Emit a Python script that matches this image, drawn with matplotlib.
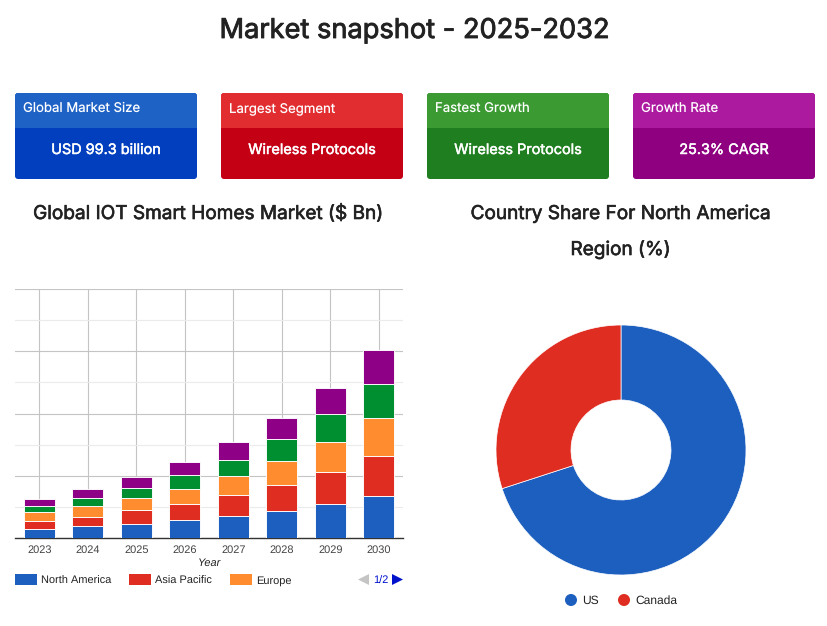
import matplotlib
matplotlib.use("Agg")
import matplotlib.pyplot as plt
import matplotlib.patheffects as pe
from matplotlib.patches import FancyBboxPatch, Rectangle, Polygon, Circle
from matplotlib.ticker import MultipleLocator

plt.rcParams["text.hinting"] = "none"
plt.rcParams["text.hinting_factor"] = 1

W, H = 827, 626

years = ["2023", "2024", "2025", "2026", "2027", "2028", "2029", "2030"]
north_america = [2.8, 3.75, 4.4, 5.7, 7.0, 8.6, 10.8, 13.4]
asia_pacific = [2.8, 3.1, 4.5, 5.1, 6.7, 8.4, 10.3, 12.9]
europe = [2.7, 3.3, 3.9, 5.1, 6.1, 7.7, 9.6, 12.2]
latin_america = [2.1, 2.8, 3.4, 4.4, 5.4, 7.0, 9.0, 11.1]
middle_east_africa = [2.1, 2.8, 3.4, 4.1, 5.6, 6.8, 8.4, 10.8]

series_names = ["North America", "Asia Pacific", "Europe", "Latin America", "Middle East & Africa"]
series_colors = ["#1C5FBF", "#E02D22", "#FF8C2E", "#008F30", "#8E0085"]

countries = ["US", "Canada"]
country_share = [70, 30]
country_colors = ["#1C5FBF", "#E02D22"]

card_titles = ["Global Market Size", "Largest Segment", "Fastest Growth", "Growth Rate"]
card_values = ["USD 99.3 billion", "Wireless Protocols", "Wireless Protocols", "25.3% CAGR"]
card_head = ["#1E62C5", "#E22D30", "#3B9A32", "#AC1AA0"]
card_body = ["#013FBF", "#C40015", "#1F7E1F", "#8E0080"]

HEAD_FONT = ["Inter", "DejaVu Sans"]
ARIAL = ["Liberation Sans", "DejaVu Sans"]

fig = plt.figure(figsize=(W / 100, H / 100), dpi=100, facecolor="white")

def px_axes(x0, y0, x1, y1, **kw):
    return fig.add_axes([x0 / W, 1 - y1 / H, (x1 - x0) / W, (y1 - y0) / H], **kw)

def medium(color, width=0.45):
    return [pe.withStroke(linewidth=width, foreground=color)]

ov = fig.add_axes([0, 0, 1, 1], zorder=0)
ov.set_xlim(0, W)
ov.set_ylim(H, 0)
ov.axis("off")

ov.text(414.5, 38, "Market snapshot - 2025-2032", ha="center", va="baseline",
        fontsize=19.6, color="#222222", family=HEAD_FONT, path_effects=medium("#222222", 0.6))

for i, x0 in enumerate([15, 221, 427, 633]):
    card = FancyBboxPatch((x0, 93), 182, 86, boxstyle="round,pad=0,rounding_size=3",
                          fc=card_body[i], ec="none")
    ov.add_patch(card)
    head = Rectangle((x0, 93), 182, 35, fc=card_head[i], ec="none")
    ov.add_patch(head)
    head.set_clip_path(card)
    ov.text(x0 + 8, 112, card_titles[i], ha="left", va="baseline", fontsize=9.5,
            color="white", family=HEAD_FONT)
    ov.text(x0 + 91, 154, card_values[i], ha="center", va="baseline", fontsize=10.4,
            color="white", family=HEAD_FONT, path_effects=medium("white", 0.35))

for xc, yb, txt in [(208, 219, "Global IOT Smart Homes Market ($ Bn)"),
                    (620.5, 219, "Country Share For North America"),
                    (620.5, 255, "Region (%)")]:
    ov.text(xc, yb, txt, ha="center", va="baseline", fontsize=13.7, color="#222222",
            family=HEAD_FONT, path_effects=medium("#222222", 0.45))

ax = px_axes(15, 289, 403, 538, zorder=1)
ax.patch.set_alpha(0)
pos = list(range(len(years)))
bottom = [0.0] * len(years)
for vals, name, col in zip([north_america, asia_pacific, europe, latin_america, middle_east_africa],
                           series_names, series_colors):
    ax.bar(pos, vals, 0.63, bottom=bottom, color=col, edgecolor="white", linewidth=0.65,
           label=name, zorder=3)
    bottom = [b + v for b, v in zip(bottom, vals)]
ax.set_xlim(-0.5, 7.5)
ax.set_ylim(0, 80)
ax.yaxis.set_major_locator(MultipleLocator(20))
ax.yaxis.set_minor_locator(MultipleLocator(10))
ax.set_xticks(pos, years)
ax.grid(True, which="major", axis="both", color="#C4C4C4", linewidth=0.8, zorder=0)
ax.grid(True, which="minor", axis="y", color="#EBEBEB", linewidth=0.8, zorder=0)
ax.set_axisbelow(True)
ax.tick_params(axis="both", which="both", length=0)
ax.tick_params(axis="y", which="both", labelleft=False)
ax.tick_params(axis="x", pad=5, labelsize=8.2, labelcolor="#444444")
for lab in ax.get_xticklabels():
    lab.set_family(ARIAL)
for s in ["top", "left", "right"]:
    ax.spines[s].set_visible(False)
ax.spines["bottom"].set_color("#333333")
ax.spines["bottom"].set_linewidth(1)
ax.set_xlabel("Year", fontsize=8.2, fontstyle="italic", color="#222222", family=ARIAL, labelpad=2)

for x0, name, col in zip([15, 129, 230], series_names[:3], series_colors[:3]):
    ov.add_patch(Rectangle((x0, 574), 22, 11, fc=col, ec="none"))
    ov.text(x0 + 26, 583.5, name, ha="left", va="baseline", fontsize=7.9, color="#222222", family=ARIAL)
ov.add_patch(Polygon([[358, 579.5], [369, 574], [369, 585]], closed=True, fc="#C4C4C4", ec="none"))
ov.text(380.5, 583.5, "1/2", ha="center", va="baseline", fontsize=8.2, color="#0011CC", family=ARIAL)
ov.add_patch(Polygon([[392, 574], [403, 579.5], [392, 585]], closed=True, fc="#0011CC", ec="none"))

pie_ax = px_axes(495, 324, 747, 576, zorder=1)
pie_ax.pie(country_share, colors=country_colors, startangle=90, counterclock=False, radius=1,
           wedgeprops=dict(width=0.6, edgecolor="white", linewidth=0.5))
pie_ax.set_xlim(-1.008, 1.008)
pie_ax.set_ylim(-1.008, 1.008)

for cx, name, col in zip([571, 624], countries, country_colors):
    ov.add_patch(Circle((cx, 600), 6, fc=col, ec="none"))
    ov.text(cx + 11, 604, name, ha="left", va="baseline", fontsize=8.7, color="#222222", family=ARIAL)

fig.savefig("out.png", dpi=100)
